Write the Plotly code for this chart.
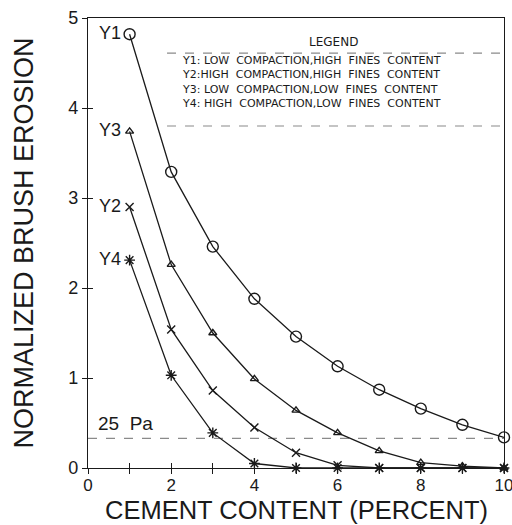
import plotly.graph_objects as go

# Cement content (percent) and normalized brush erosion for each soil case
cement = [1, 2, 3, 4, 5, 6, 7, 8, 9, 10]
y1 = [4.82, 3.29, 2.46, 1.88, 1.46, 1.13, 0.87, 0.66, 0.48, 0.34]
y2 = [2.90, 1.54, 0.86, 0.45, 0.17, 0.03, 0.0, 0.0, 0.0, 0.0]
y3 = [3.74, 2.26, 1.50, 0.99, 0.64, 0.39, 0.19, 0.06, 0.02, 0.0]
y4 = [2.31, 1.03, 0.39, 0.05, 0.0, 0.0, 0.0, 0.0, 0.0, 0.0]
threshold = 0.33  # 25 Pa reference level

series_names = ["Y1", "Y2", "Y3", "Y4"]
series_values = [y1, y2, y3, y4]
series_symbols = ["circle-open", "x-thin-open", "triangle-up-open", "asterisk-open"]
series_sizes = [11, 8, 7, 9]

legend_title = "LEGEND"
legend_lines = [
    "Y1: LOW  COMPACTION,HIGH  FINES  CONTENT",
    "Y2:HIGH  COMPACTION,HIGH  FINES  CONTENT",
    "Y3: LOW  COMPACTION,LOW  FINES  CONTENT",
    "Y4: HIGH  COMPACTION,LOW  FINES  CONTENT",
]

FONT = "Liberation Sans, Arial, sans-serif"
LEGEND_FONT = "DejaVu Sans, sans-serif"
INK = "#1a1a1a"
GREY = "#8a8a8a"

fig = go.Figure()

# 25 Pa threshold line
fig.add_trace(go.Scatter(
    x=[0, 10], y=[threshold, threshold], mode="lines",
    line=dict(color=GREY, width=1.2, dash="dash"),
    hoverinfo="skip", showlegend=False,
))

for name, vals, sym, sz in zip(series_names, series_values, series_symbols, series_sizes):
    fig.add_trace(go.Scatter(
        x=cement, y=vals, mode="lines+markers", name=name,
        line=dict(color=INK, width=1.3),
        marker=dict(symbol=sym, size=sz, color=INK, line=dict(width=1.4, color=INK)),
        cliponaxis=False, showlegend=False,
    ))
    # curve label beside the first point
    fig.add_annotation(
        x=cement[0], y=vals[0], text=name, showarrow=False,
        xanchor="right", yanchor="middle", xshift=-7, yshift=1,
        font=dict(family=FONT, size=18, color=INK),
    )

fig.add_annotation(
    x=0.2, y=threshold, text="25  Pa", showarrow=False,
    xanchor="left", yanchor="bottom", yshift=2,
    font=dict(family=FONT, size=19, color=INK),
)

# Boxed legend text drawn inside the plot
fig.add_annotation(
    xref="paper", yref="paper", x=0.589, y=0.947, text=legend_title,
    showarrow=False, xanchor="center", yanchor="middle",
    font=dict(family=LEGEND_FONT, size=12, color=INK),
)
fig.add_annotation(
    xref="paper", yref="paper", x=0.222, y=0.857, text="<br>".join(legend_lines),
    showarrow=False, xanchor="left", yanchor="middle", align="left",
    font=dict(family=LEGEND_FONT, size=11, color=INK),
)
for yy in (0.922, 0.760):
    fig.add_shape(
        type="line", xref="paper", yref="paper", x0=0.19, x1=0.995, y0=yy, y1=yy,
        line=dict(color=GREY, width=1.1, dash="dash"),
    )

# x-axis title placed as text below the tick labels
fig.add_annotation(
    xref="paper", yref="paper", x=0.5, y=-0.0944, text="CEMENT CONTENT (PERCENT)",
    showarrow=False, xanchor="center", yanchor="middle",
    font=dict(family=FONT, size=25.5, color=INK),
)

axis_common = dict(
    showgrid=False, zeroline=False, showline=True, linecolor=INK, linewidth=1.3,
    ticks="outside", ticklen=5, tickwidth=1.2, tickcolor=INK,
    ticklabeloverflow="allow",
)

fig.update_layout(
    width=512, height=525,
    margin=dict(l=88, r=8, t=18, b=57),
    paper_bgcolor="white", plot_bgcolor="white",
    xaxis=dict(
        range=[0, 10], tickvals=list(range(0, 11)),
        ticktext=[str(v) if v % 2 == 0 else "" for v in range(0, 11)],
        mirror=True, automargin=False, ticklabelstandoff=-4,
        tickfont=dict(family=FONT, size=17, color=INK),
        **axis_common,
    ),
    yaxis=dict(
        range=[0, 5], tickvals=[0, 1, 2, 3, 4, 5], mirror=True,
        tickfont=dict(family=FONT, size=18, color=INK),
        title=dict(text="NORMALIZED BRUSH EROSION", standoff=26,
                   font=dict(family=FONT, size=27, color=INK)),
        **axis_common,
    ),
    # inside tick halves so ticks cross the axis lines
    xaxis2=dict(overlaying="x", range=[0, 10], tickvals=list(range(0, 11)),
                showticklabels=False, ticks="inside", ticklen=5, tickwidth=1.2,
                tickcolor=INK, showgrid=False, zeroline=False, showline=False,
                anchor="y"),
    yaxis2=dict(overlaying="y", range=[0, 5], tickvals=[0, 1, 2, 3, 4, 5],
                showticklabels=False, ticks="inside", ticklen=5, tickwidth=1.2,
                tickcolor=INK, showgrid=False, zeroline=False, showline=False,
                anchor="x"),
)

# invisible trace to activate the secondary tick axes
fig.add_trace(go.Scatter(x=[0], y=[0], xaxis="x2", yaxis="y2", mode="markers",
                         marker=dict(opacity=0), hoverinfo="skip", showlegend=False))

fig.write_html("out.html")
